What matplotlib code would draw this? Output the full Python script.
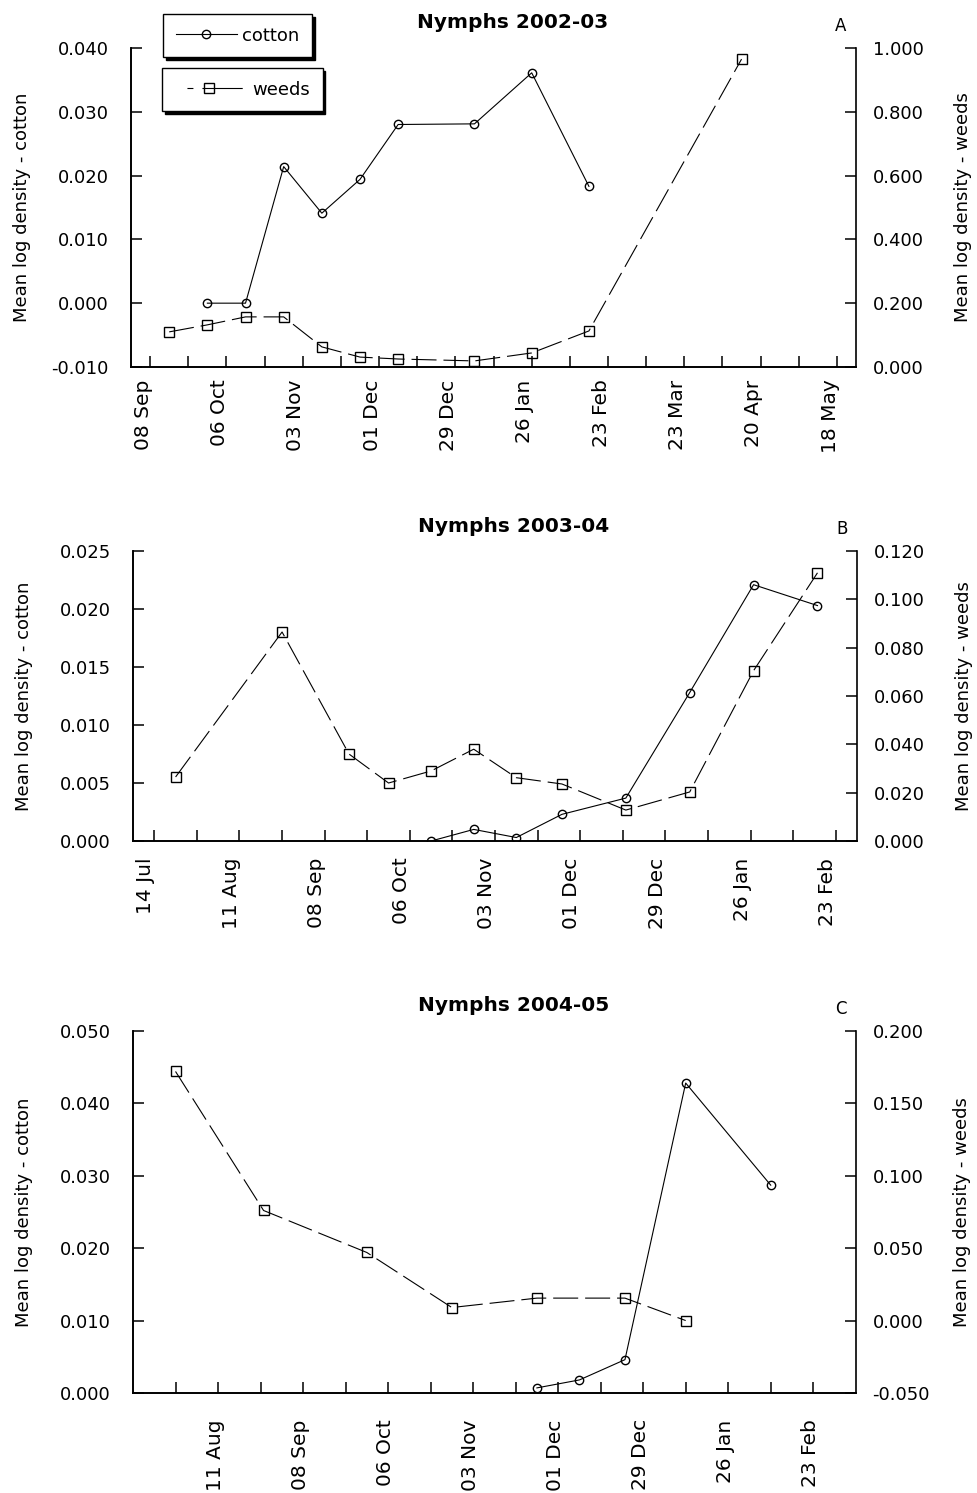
import matplotlib
matplotlib.use('Agg')
import matplotlib.pyplot as plt
import matplotlib.dates as mdates
from matplotlib.ticker import FormatStrFormatter
from matplotlib.lines import Line2D
from matplotlib.transforms import ScaledTranslation
import numpy as np
import pandas as pd

plt.rcParams['font.family'] = ['DejaVu Sans']
plt.rcParams['lines.scale_dashes'] = False

# ---- values ----
# Nymphs 2002-03
a_cotton_dates = ['2002-09-29', '2002-10-13', '2002-10-27', '2002-11-10', '2002-11-24',
                  '2002-12-08', '2003-01-05', '2003-01-26', '2003-02-16']
a_cotton = [0.0000, 0.0000, 0.0214, 0.0141, 0.0194, 0.0280, 0.0281, 0.0361, 0.0183]
a_weed_dates = ['2002-09-15', '2002-09-29', '2002-10-13', '2002-10-27', '2002-11-10',
                '2002-11-24', '2002-12-08', '2003-01-05', '2003-01-26', '2003-02-16',
                '2003-04-13']
a_weeds = [0.110, 0.132, 0.157, 0.157, 0.063, 0.031, 0.025, 0.019, 0.044, 0.113, 0.965]

# Nymphs 2003-04
b_cotton_dates = ['2003-10-13', '2003-10-27', '2003-11-10', '2003-11-25', '2003-12-16',
                  '2004-01-06', '2004-01-27', '2004-02-17']
b_cotton = [0.0000, 0.0010, 0.0003, 0.0023, 0.0037, 0.0128, 0.0221, 0.0203]
b_weed_dates = ['2003-07-21', '2003-08-25', '2003-09-16', '2003-09-29', '2003-10-13',
                '2003-10-27', '2003-11-10', '2003-11-25', '2003-12-16', '2004-01-06',
                '2004-01-27', '2004-02-17']
b_weeds = [0.0265, 0.0865, 0.0360, 0.0240, 0.0290, 0.0380, 0.0262, 0.0236, 0.0128,
           0.0203, 0.0705, 0.1110]

# Nymphs 2004-05
c_cotton_dates = ['2004-11-24', '2004-12-08', '2004-12-23', '2005-01-12', '2005-02-09']
c_cotton = [0.0007, 0.0018, 0.0046, 0.0428, 0.0287]
c_weed_dates = ['2004-07-28', '2004-08-26', '2004-09-29', '2004-10-27', '2004-11-24',
                '2004-12-23', '2005-01-12']
c_weeds = [0.172, 0.076, 0.047, 0.009, 0.0155, 0.0155, 0.000]

cotton_label = 'cotton'
weeds_label = 'weeds'
ylabel_left = 'Mean log density - cotton'
ylabel_right = 'Mean log density - weeds'


def to_num(dates):
    return mdates.date2num(pd.to_datetime(dates))


fig = plt.figure(figsize=(9.78, 14.93), dpi=100)

cotton_style = dict(color='k', lw=0.8, marker='o', ms=6, mfc='none', mec='k', mew=1.0)
weed_style = dict(color='k', lw=0.8, dashes=(18, 5), marker='s', ms=6.5, mfc='none',
                  mec='k', mew=1.0)


def draw_panel(rect, cd, cv, wd, wv, xlim, tick_start, label_start, tick_end,
               ylim_l, step_l, ylim_r, step_r, title, letter, label_dx, label_pad):
    ax = fig.add_axes(rect)
    ax2 = ax.twinx()

    ax.plot(to_num(cd), cv, **cotton_style)
    ax2.plot(to_num(wd), wv, **weed_style)

    ax.set_xlim(to_num(xlim))
    ax.set_ylim(ylim_l)
    ax2.set_ylim(ylim_r)
    ax.set_yticks(np.arange(ylim_l[0], ylim_l[1] + step_l / 2, step_l))
    ax2.set_yticks(np.arange(ylim_r[0], ylim_r[1] + step_r / 2, step_r))
    ax.yaxis.set_major_formatter(FormatStrFormatter('%.3f'))
    ax2.yaxis.set_major_formatter(FormatStrFormatter('%.3f'))

    # every tick is 14 days apart, only every other one carries a date
    all_ticks = pd.date_range(tick_start, tick_end, freq='14D')
    major = pd.date_range(label_start, tick_end, freq='28D')
    minor = [t for t in all_ticks if t not in set(major)]
    ax.set_xticks(to_num(major))
    ax.set_xticks(to_num(minor), minor=True)
    ax.set_xticklabels([d.strftime('%d %b') for d in major], rotation=90,
                       ha='center', va='top', fontsize=14.5)

    for a in (ax, ax2):
        a.spines['top'].set_visible(False)
        for s in a.spines.values():
            s.set_linewidth(1.2)
    ax.spines['right'].set_visible(False)
    ax.tick_params(axis='x', which='both', direction='in', length=8, width=1.1,
                   pad=label_pad)
    ax.tick_params(axis='y', direction='in', length=8, width=1.1, pad=16, labelsize=13)
    ax2.tick_params(axis='y', direction='in', length=8, width=1.1, pad=12, labelsize=13)

    shift = ScaledTranslation(label_dx / 72, 0, fig.dpi_scale_trans)
    for lab in ax.get_xticklabels():
        lab.set_transform(lab.get_transform() + shift)

    ax.set_ylabel(ylabel_left, fontsize=13)
    ax2.set_ylabel(ylabel_right, fontsize=13)
    ax.yaxis.set_label_coords(-0.138, 0.5)
    ax2.yaxis.set_label_coords(1.135, 0.5)

    ax.annotate(title, xy=(0.526, 1), xycoords='axes fraction', xytext=(0, 18),
                textcoords='offset points', ha='center', va='center',
                fontsize=14.5, fontweight='bold')
    ax.annotate(letter, xy=(1, 1), xycoords='axes fraction', xytext=(-11, 16),
                textcoords='offset points', ha='center', va='center', fontsize=12)
    return ax, ax2


ax_a, _ = draw_panel([0.134, 0.7542, 0.7413, 0.2137], a_cotton_dates, a_cotton,
                     a_weed_dates, a_weeds, ['2002-09-01', '2003-05-25'],
                     '2002-09-08', '2002-09-08', '2003-05-18',
                     (-0.010, 0.040), 0.010, (0.0, 1.0), 0.2,
                     'Nymphs 2002-03', 'A', -5, 9)
draw_panel([0.136, 0.4367, 0.7403, 0.1942], b_cotton_dates, b_cotton,
           b_weed_dates, b_weeds, ['2003-07-07', '2004-03-01'],
           '2003-07-14', '2003-07-14', '2004-02-23',
           (0.0, 0.025), 0.005, (0.0, 0.12), 0.02,
           'Nymphs 2003-04', 'B', -6, 12)
draw_panel([0.136, 0.0670, 0.7390, 0.2425], c_cotton_dates, c_cotton,
           c_weed_dates, c_weeds, ['2004-07-14', '2005-03-09'],
           '2004-07-28', '2004-08-11', '2005-02-23',
           (0.0, 0.050), 0.010, (-0.050, 0.200), 0.050,
           'Nymphs 2004-05', 'C', -2, 19)

# legend: two separate shadowed boxes, as in the original
h_cot = Line2D([], [], **cotton_style)
h_weed = Line2D([], [], color='k', lw=0.8, linestyle=(39.8, (4.3, 6.5, 29, 8.6)),
                marker='s', ms=6.5, mfc='none', mec='k', mew=1.0)
leg_kw = dict(loc='upper left', bbox_transform=fig.transFigure, borderaxespad=0,
              fancybox=False, edgecolor='k', framealpha=1, fontsize=13, borderpad=0.7,
              shadow={'color': 'black', 'alpha': 1})
leg1 = ax_a.legend([h_cot], [cotton_label], bbox_to_anchor=(0.1667, 0.9906),
                   handlelength=3.4, handletextpad=0.3, **leg_kw)
ax_a.add_artist(leg1)
leg2 = ax_a.legend([h_weed], [weeds_label], bbox_to_anchor=(0.1656, 0.9545),
                   handlelength=3.8, handletextpad=0.5, **leg_kw)
for lg in (leg1, leg2):
    lg.get_frame().set_linewidth(1.0)
    lg.set_zorder(10)

fig.savefig('out.png', dpi=100)
